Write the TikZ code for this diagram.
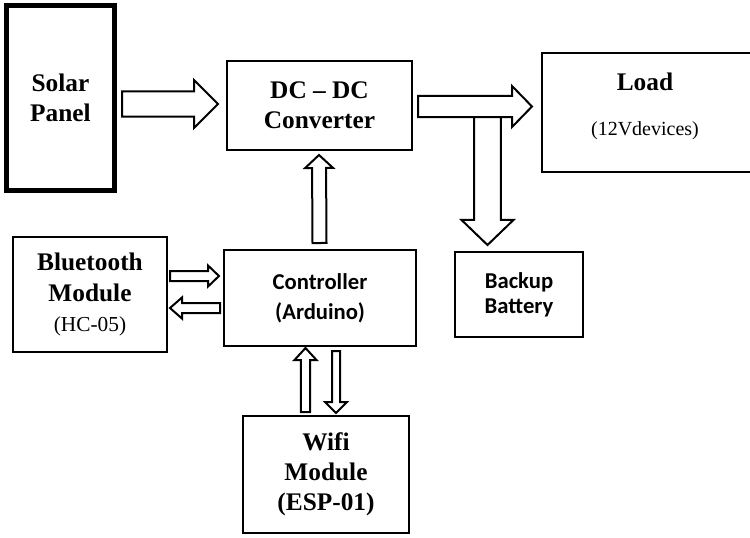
\documentclass[tikz,border=0pt]{standalone}
\usepackage{fontspec}
\setmainfont{Liberation Serif}
\newfontfamily\calibrifont{Carlito}
\usetikzlibrary{calc}

\tikzset{every picture/.style={line width=0.75pt}}
\tikzset{
  box/.style={draw, line width=1.5pt, outer sep=0pt, inner sep=0pt, align=center},
  serifb/.style={font=\fontsize{19}{22.5}\selectfont\bfseries},
  sansb/.style={font=\fontsize{17}{22.5}\selectfont\calibrifont\bfseries},
  blockarrow/.style={draw, line width=1.5pt, fill=white, line join=miter},
}

% hollow arrow: start, end, half shaft width, half head width, head length
\newcommand{\blockarrow}[5]{%
  \coordinate (ba-s) at #1;
  \coordinate (ba-e) at #2;
  \coordinate (ba-h) at ($(ba-e)!#5!(ba-s)$);
  \draw[blockarrow] ($(ba-s)!#3!90:(ba-e)$) -- ($(ba-h)!#3!90:(ba-e)$) -- ($(ba-h)!#4!90:(ba-e)$) -- (ba-e) -- ($(ba-h)!#4!-90:(ba-e)$) -- ($(ba-h)!#3!-90:(ba-e)$) -- ($(ba-s)!#3!-90:(ba-e)$) -- cycle;
}

\begin{document}
\begin{tikzpicture}[x=0.75pt,y=0.75pt,yscale=-1,xscale=1]
		\useasboundingbox (0,0) rectangle (750,537);
		
		%Shape: Solar panel
		\node[box, line width=3.75pt, serifb, minimum width=81pt, minimum height=139pt] (solar) at (60.5,98) {Solar\\Panel};
		%Shape: DC-DC converter
		\node[box, serifb, minimum width=138.75pt, minimum height=66.75pt] (dcdc) at (319.5,105.5) {DC – DC\\Converter};
		%Shape: Load
		\node[box, minimum width=157.5pt, minimum height=89.25pt] (load) at (647,112.5) {};
		\node[align=center, inner sep=0pt, font=\fontsize{15}{33.75}\selectfont] (loadtext) at (645,106) {{\fontsize{19}{22}\selectfont\bfseries Load}\\(12Vdevices)};
		%Shape: Backup battery
		\node[box, sansb, font=\fontsize{17}{18.75}\selectfont\calibrifont\bfseries, minimum width=96pt, minimum height=63.75pt] (battery) at (519,294.5) {Backup\\Battery};
		%Shape: Controller
		\node[box, sansb, minimum width=144pt, minimum height=72pt] (ctrl) at (320,298) {Controller\\(Arduino)};
		%Shape: Bluetooth module
		\node[box, serifb, font=\fontsize{19}{23}\selectfont\bfseries, minimum width=115.5pt, minimum height=86.25pt] (bt) at (90,294.5) {Bluetooth\\Module\\{\fontsize{16}{18.75}\selectfont\mdseries (HC-05)\par}};
		%Shape: Wifi module
		\node[box, serifb, minimum width=124.5pt, minimum height=87.75pt] (wifi) at (326,474.5) {Wifi\\Module\\(ESP-01)};
		
		\blockarrow{([shift={(7.5,6)}]solar.east)}{([shift={(-9,-1.5)}]dcdc.west)}{9.4pt}{18pt}{18pt}
		\blockarrow{([shift={(6,1)}]dcdc.east)}{([shift={(-10,-6)}]load.west)}{7.9pt}{15.4pt}{15pt}
		\coordinate (split) at (487.5,117);
		\blockarrow{(split)}{([shift={(-31.5,-7)}]battery.north)}{10.1pt}{19.5pt}{18.8pt}
		\blockarrow{([shift={(-0.5,-7)}]ctrl.north)}{([shift={(-0.5,5)}]dcdc.south)}{5.25pt}{10.5pt}{9.75pt}
		\blockarrow{([shift={(3,-18.5)}]bt.east)}{([shift={(-5,-22)}]ctrl.west)}{3.75pt}{7.9pt}{8.25pt}
		\blockarrow{([shift={(-4,10)}]ctrl.west)}{([shift={(3,13.5)}]bt.east)}{3.75pt}{7.9pt}{9pt}
		\blockarrow{([shift={(-20.5,-4)}]wifi.north)}{([shift={(-14.5,2)}]ctrl.south)}{3.4pt}{8.25pt}{9pt}
		\blockarrow{([shift={(16,5)}]ctrl.south)}{([shift={(10,-3)}]wifi.north)}{3pt}{8.25pt}{8.25pt}
		
	\end{tikzpicture}
\end{document}
